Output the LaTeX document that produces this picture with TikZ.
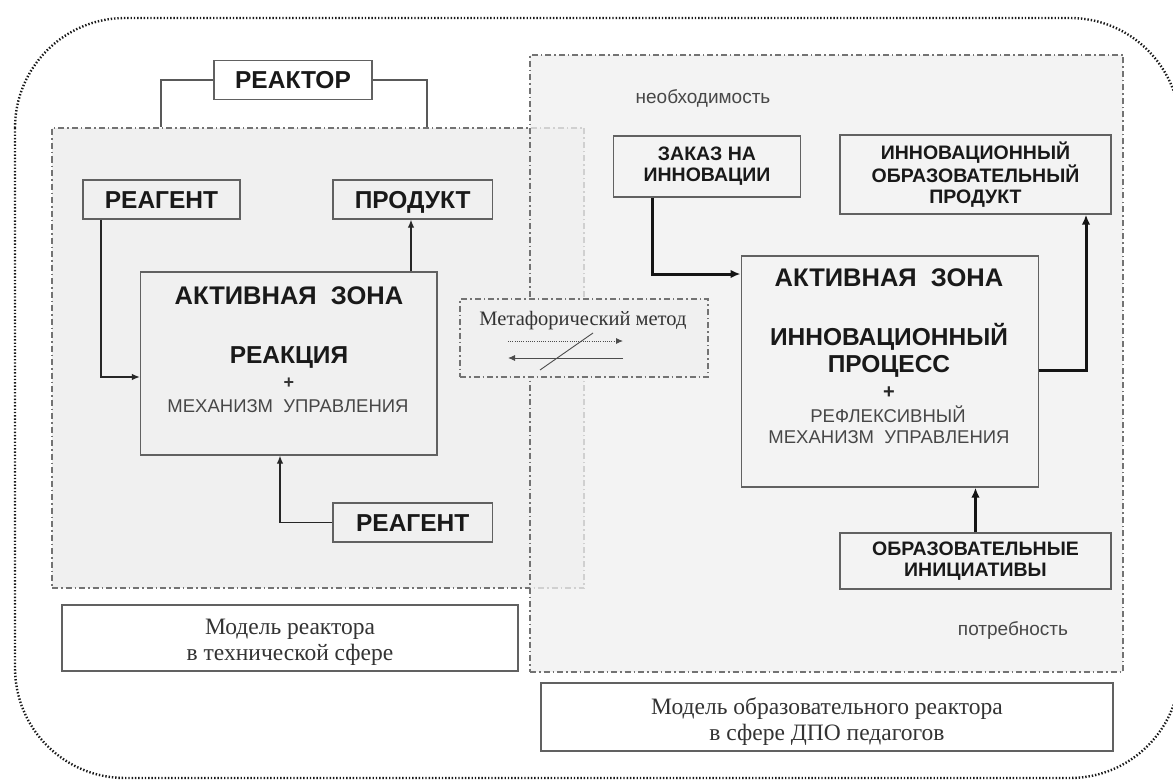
\documentclass[tikz,border=0pt]{standalone}
\usepackage{fontspec}
\setmainfont{Liberation Serif}
\setsansfont{Liberation Sans}
\usetikzlibrary{arrows.meta}
\newcommand\myBig{\sffamily\bfseries\fontsize{24.5}{28}\selectfont}
\newcommand\myZone{\sffamily\bfseries\fontsize{25.5}{28}\selectfont}
\newcommand\myMid{\sffamily\bfseries\fontsize{19.5}{21}\selectfont}
\newcommand\myReg{\sffamily\fontsize{18.5}{20}\selectfont}
\newcommand\mySmall{\sffamily\fontsize{19}{21}\selectfont}
\newcommand\mySer{\rmfamily\fontsize{23.5}{26}\selectfont}
\newcommand\myMeta{\rmfamily\fontsize{20.5}{22}\selectfont}
\begin{document}
\begin{tikzpicture}[x=1pt,y=-1pt,
  frame/.style={draw=black!55, line width=1.2pt, dash pattern=on 6pt off 3pt on 1.5pt off 3pt, inner sep=0pt},
  box/.style={draw=black!62, line width=1.3pt, inner sep=0pt},
  caps/.style={text height=17.5pt, text depth=0pt},
  thinarr/.style={draw=black!85, line width=1.2pt, -{Latex[length=8pt,width=6.5pt]}},
  thickarr/.style={draw=black!92, line width=3pt, -{Latex[length=10pt,width=8.5pt]}},
  conn/.style={draw=black!65, line width=1.2pt},
  txt/.style={inner sep=0pt, anchor=base},
  boldtxt/.style={txt, text=black!90},
  regtxt/.style={txt, text=black!72},
  sertxt/.style={txt, text=black!80, font=\mySer},
  outerline/.style={draw=black!90, line width=2.4pt, dash pattern=on 1.4pt off 1.9pt, rounded corners=110pt},
  metadot/.style={draw=black!70, line width=0.9pt, dash pattern=on 1pt off 1.2pt, -{Latex[length=7pt,width=6pt]}},
  metasolid/.style={draw=black!70, line width=0.9pt, -{Latex[length=7pt,width=6pt]}},
  metaslash/.style={draw=black!70, line width=0.9pt},
]
\fill[white] (0,0) rectangle (1173,781);
\useasboundingbox (0,0) rectangle (1173,781);

% outer dotted border
\draw[outerline] (15,18) rectangle (1180,778);

% frames
\node[frame, fill=black!6, minimum width=532pt, minimum height=460pt] (techframe) at (318,358) {};
\node[frame, fill=black!6, fill opacity=0.75, minimum width=593pt, minimum height=617pt] (eduframe) at (826.5,363.5) {};

% left model
\node[box, caps, minimum width=158pt, minimum height=39pt, font=\myBig, text=black!90] (reaktor) at (293,80) {РЕАКТОР};
\draw[conn] (reaktor.west) -| ([xshift=-157pt]techframe.north);
\draw[conn] (reaktor.east) -| ([xshift=109pt]techframe.north);

\node[box, caps, minimum width=157pt, minimum height=39pt, font=\myBig, text=black!90] (reagent1) at (161.5,199.5) {РЕАГЕНТ};
\node[box, caps, minimum width=159.5pt, minimum height=39pt, font=\myBig, text=black!90] (produkt) at (412.75,199.5) {ПРОДУКТ};
\node[box, minimum width=296.5pt, minimum height=183pt] (az1) at (288.75,363.5) {};
\node[box, caps, minimum width=159.5pt, minimum height=39pt, font=\myBig, text=black!90] (reagent2) at (412.75,522.5) {РЕАГЕНТ};

\node[boldtxt, font=\myZone] (az1a) at (289,304) {АКТИВНАЯ\ \ ЗОНА};
\node[boldtxt, font=\myBig] (az1b) at (289,363) {РЕАКЦИЯ};
\node[inner sep=0pt, font=\sffamily\bfseries\fontsize{18}{20}\selectfont, text=black!80] (az1c) at (289,383) {+};
\node[regtxt, font=\myReg] (az1d) at (288,412.5) {МЕХАНИЗМ\ \ УПРАВЛЕНИЯ};

\draw[thinarr] ([xshift=-60.5pt]reagent1.south) |- ([yshift=-13.5pt]az1.west);
\draw[thinarr] ([xshift=122.25pt]az1.north) -- ([xshift=-1.75pt]produkt.south);
\draw[thinarr] (reagent2.west) -| ([xshift=-8.75pt]az1.south);

\node[box, minimum width=456pt, minimum height=66pt] (model1) at (290,638) {};
\node[sertxt] (m1a) at (290,634) {Модель реактора};
\node[sertxt] (m1b) at (290,660) {в технической сфере};

% metaphor box
\node[frame, fill=black!6, minimum width=248pt, minimum height=78pt] (meta) at (584,338) {};
\node[txt, font=\myMeta, text=black!80] (metat) at (583,325) {Метафорический метод};
\coordinate (ma) at (508,341);
\coordinate (mb) at (623,341);
\coordinate (mc) at (623,358);
\coordinate (md) at (508,358);
\coordinate (sa) at (540,370);
\coordinate (sb) at (593,333);
\draw[metadot] (ma) -- (mb);
\draw[metasolid] (mc) -- (md);
\draw[metaslash] (sa) -- (sb);

% right model
\node[regtxt, font=\mySmall] (need) at (703,104) {необходимость};
\node[box, align=center, minimum width=187.5pt, minimum height=61pt, font=\myMid, text=black!90] (zakaz) at (707,166.5) {ЗАКАЗ НА\\ИННОВАЦИИ};
\node[box, align=center, minimum width=271pt, minimum height=79pt, font=\myMid, text=black!90] (iop) at (975.5,174.5) {ИННОВАЦИОННЫЙ\\ОБРАЗОВАТЕЛЬНЫЙ\\ПРОДУКТ};
\node[box, minimum width=297.6pt, minimum height=231pt] (az2) at (890,371.5) {};
\node[box, align=center, minimum width=271pt, minimum height=56pt, font=\myMid, text=black!90] (oi) at (975.5,561) {ОБРАЗОВАТЕЛЬНЫЕ\\ИНИЦИАТИВЫ};

\node[boldtxt, font=\myZone] (az2a) at (889,286) {АКТИВНАЯ\ \ ЗОНА};
\node[boldtxt, font=\myBig] (az2b) at (889,345) {ИННОВАЦИОННЫЙ};
\node[boldtxt, font=\myBig] (az2c) at (889,372) {ПРОЦЕСС};
\node[inner sep=0pt, font=\sffamily\bfseries\fontsize{20}{22}\selectfont, text=black!85] (az2d) at (889,392.5) {+};
\node[regtxt, font=\myReg] (az2e) at (888,422) {РЕФЛЕКСИВНЫЙ};
\node[regtxt, font=\myReg] (az2f) at (889,443) {МЕХАНИЗМ\ \ УПРАВЛЕНИЯ};

\draw[thickarr] ([xshift=-55pt]zakaz.south) |- ([yshift=97.5pt]az2.west);
\draw[thickarr] ([yshift=1.5pt]az2.east) -| ([xshift=110.5pt]iop.south);
\draw[thickarr] (oi.north) -- ([xshift=85.5pt]az2.south);

\node[regtxt, font=\mySmall] (potr) at (1013,635) {потребность};

\node[box, minimum width=572pt, minimum height=68pt] (model2) at (827,717) {};
\node[sertxt] (m2a) at (827,714) {Модель образовательного реактора};
\node[sertxt] (m2b) at (827,740) {в сфере ДПО педагогов};
\end{tikzpicture}
\end{document}
